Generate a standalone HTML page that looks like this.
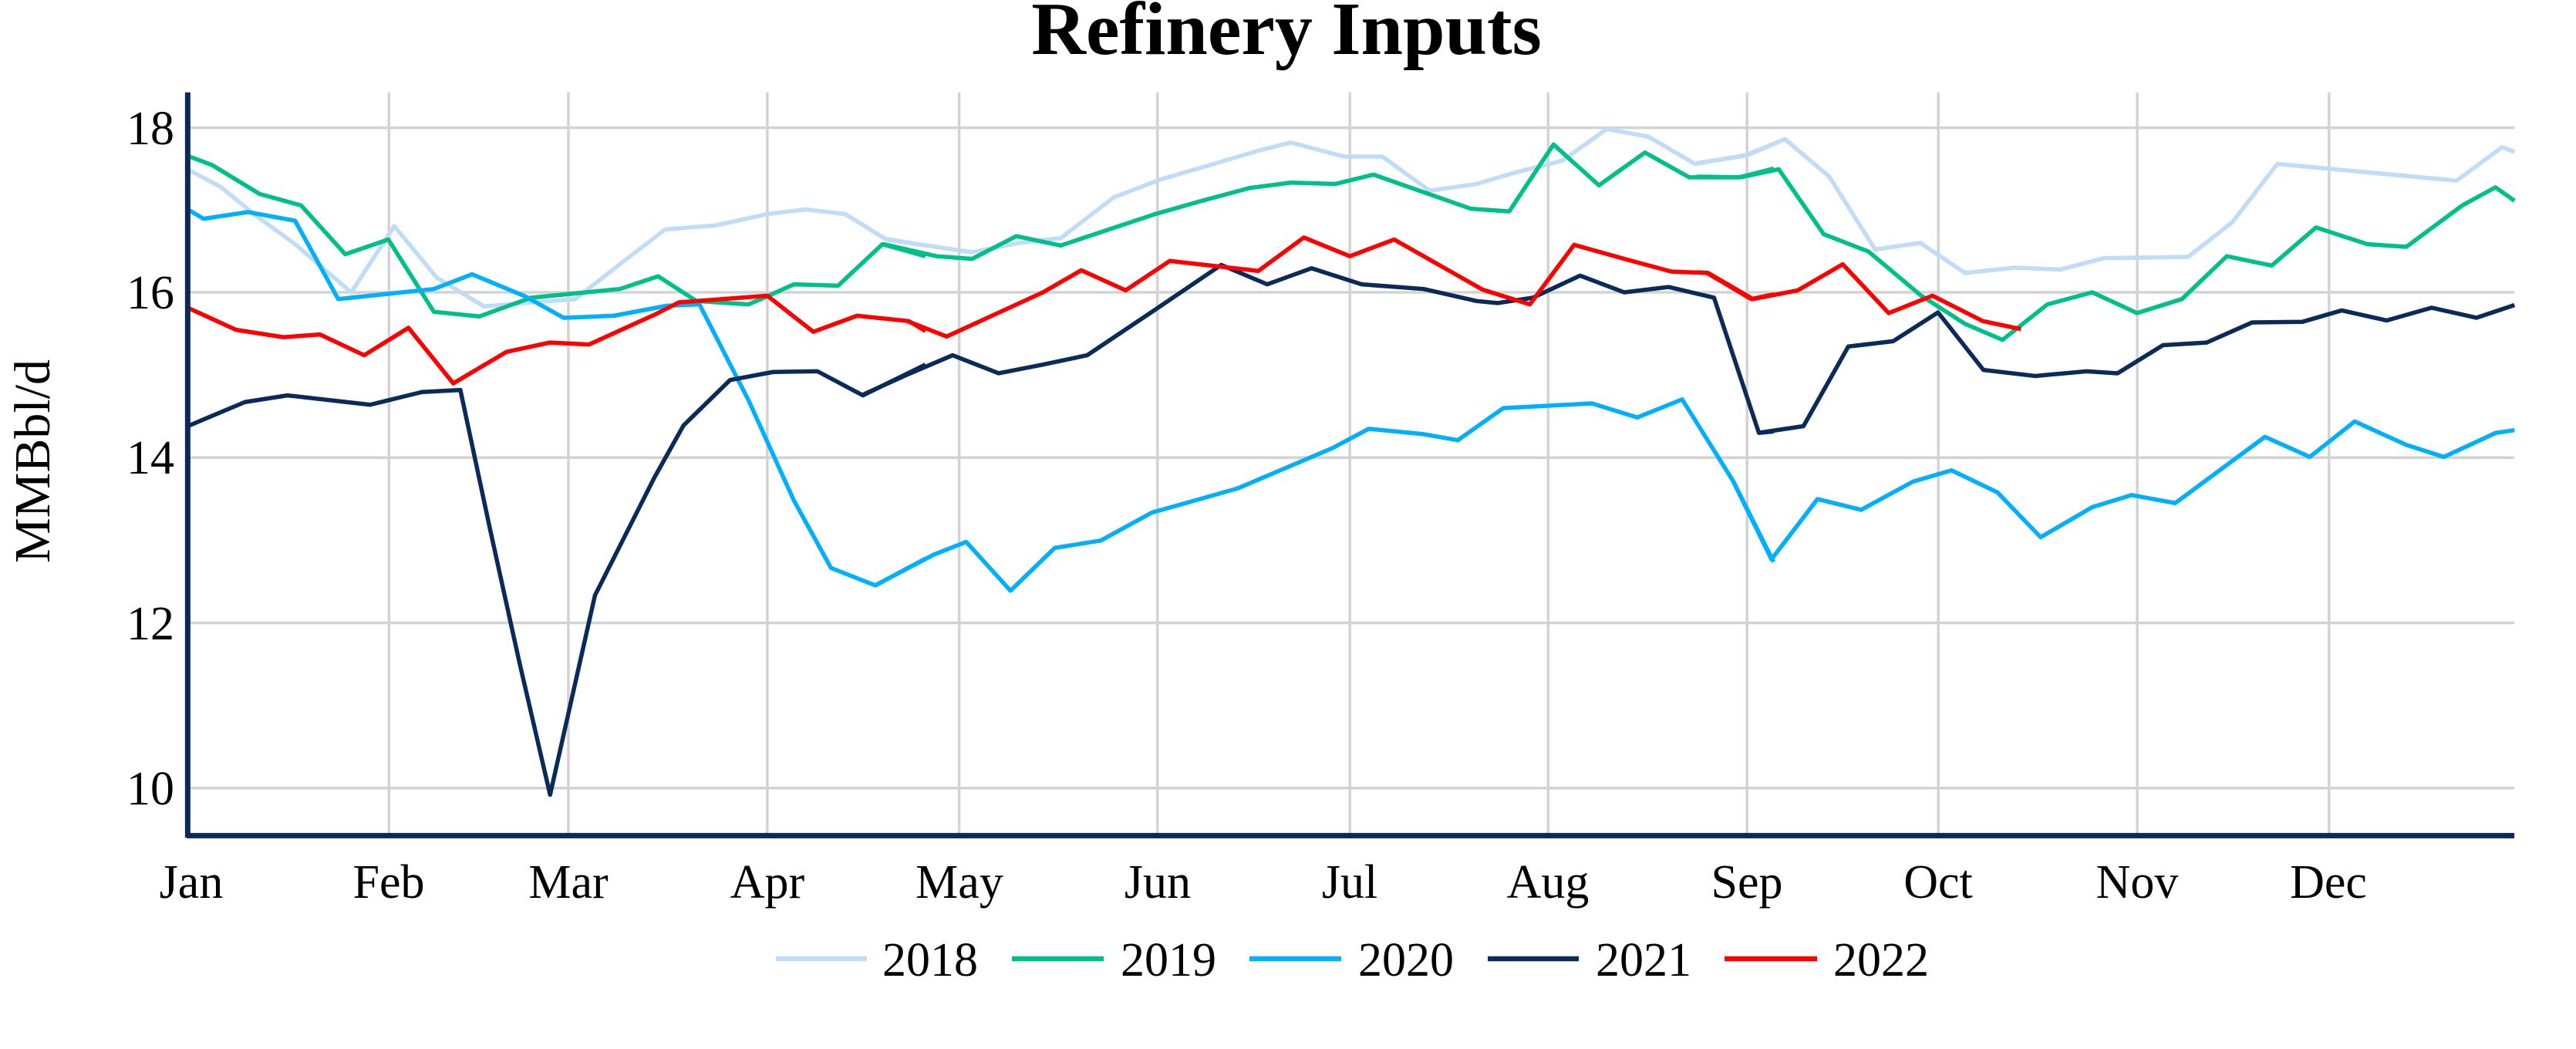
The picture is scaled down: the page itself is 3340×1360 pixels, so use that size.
<!DOCTYPE html>
<html><head><meta charset="utf-8"><style>
html,body{margin:0;padding:0;background:#fff;width:3340px;height:1360px;overflow:hidden}
svg{display:block}
text{font-family:"Liberation Serif",serif;fill:#000}
</style></head><body>
<svg width="3340" height="1360" viewBox="0 0 3340 1360" xmlns="http://www.w3.org/2000/svg">
<rect width="3340" height="1360" fill="#fff"/>
<svg x="0" y="0" width="3340" height="1360" viewBox="0 0 4364.4 1568" preserveAspectRatio="none">
<g stroke="#d3d3d3" stroke-width="3.5">
<line vector-effect="non-scaling-stroke" x1="318" y1="191" x2="4260" y2="191"/><line vector-effect="non-scaling-stroke" x1="318" y1="437" x2="4260" y2="437"/><line vector-effect="non-scaling-stroke" x1="318" y1="684" x2="4260" y2="684"/><line vector-effect="non-scaling-stroke" x1="318" y1="931" x2="4260" y2="931"/><line vector-effect="non-scaling-stroke" x1="318" y1="1178" x2="4260" y2="1178"/>
<line vector-effect="non-scaling-stroke" x1="659" y1="138" x2="659" y2="1249"/><line vector-effect="non-scaling-stroke" x1="963" y1="138" x2="963" y2="1249"/><line vector-effect="non-scaling-stroke" x1="1300" y1="138" x2="1300" y2="1249"/><line vector-effect="non-scaling-stroke" x1="1625" y1="138" x2="1625" y2="1249"/><line vector-effect="non-scaling-stroke" x1="1961" y1="138" x2="1961" y2="1249"/><line vector-effect="non-scaling-stroke" x1="2287" y1="138" x2="2287" y2="1249"/><line vector-effect="non-scaling-stroke" x1="2623" y1="138" x2="2623" y2="1249"/><line vector-effect="non-scaling-stroke" x1="2960" y1="138" x2="2960" y2="1249"/><line vector-effect="non-scaling-stroke" x1="3284" y1="138" x2="3284" y2="1249"/><line vector-effect="non-scaling-stroke" x1="3621" y1="138" x2="3621" y2="1249"/><line vector-effect="non-scaling-stroke" x1="3946" y1="138" x2="3946" y2="1249"/>
</g>
<g fill="none" stroke-width="5.5" stroke-linejoin="round">
<g stroke="#c0dcf8">
<polyline vector-effect="non-scaling-stroke" points="318,253 375,280 430,320 500,365 595,437 668,338 740,415 820,458 900,452 975,447 1050,395 1127,343 1212,337 1300,320 1365,313 1432,320 1500,357 1568,367"/>
<polyline vector-effect="non-scaling-stroke" transform="translate(1437,0)" points="65,358 210,377 290,363 360,356 450,295 530,268 600,250 700,224 750,213 840,234 905,234 985,285 1065,275 1130,258 1210,240 1285,193 1355,204 1435,245 1520,232 1568,215"/>
<polyline vector-effect="non-scaling-stroke" transform="translate(2875,0) scale(0.95005,1)" points="0,244 90,232 157,208 236,264 318,373 398,363 478,408 568,400 648,403 725,386 876,384 955,332 1035,245 1355,270 1436,220 1458,227"/>
</g>
<g stroke="#00c08a">
<polyline vector-effect="non-scaling-stroke" points="318,233 360,247 440,290 510,307 585,380 658,358 735,466 812,473 900,445 1050,432 1115,413 1180,450 1268,455 1300,443 1345,425 1420,427 1495,365 1568,383"/>
<polyline vector-effect="non-scaling-stroke" transform="translate(1437,0)" points="60,365 150,383 210,387 285,353 360,367 520,320 600,300 680,281 750,273 825,275 890,261 1055,312 1120,316 1195,216 1272,277 1350,228 1425,265 1510,265 1568,252"/>
<polyline vector-effect="non-scaling-stroke" transform="translate(2875,0) scale(0.95005,1)" points="0,264 78,265 146,253 226,350 306,376 400,442 478,484 545,508 625,455 705,437 785,468 865,447 945,383 1025,397 1104,340 1196,365 1265,369 1365,307 1424,280 1458,300"/>
</g>
<g stroke="#00b0ff">
<polyline vector-effect="non-scaling-stroke" points="318,313 345,327 420,317 500,330 573,447 735,432 800,410 890,443 955,475 1040,472 1130,457 1185,455 1268,598 1345,748 1408,849 1483,875 1568,835"/>
<polyline vector-effect="non-scaling-stroke" transform="translate(1437,0)" points="46,875 145,829 200,810 275,883 350,819 428,808 515,766 580,750 660,730 740,700 820,670 882,641 975,649 1033,658 1110,610 1260,603 1337,624 1413,597 1500,720 1568,840"/>
<polyline vector-effect="non-scaling-stroke" transform="translate(2875,0) scale(0.95005,1)" points="65,720 133,836 215,746 293,762 385,720 454,703 536,736 613,803 705,758 775,740 853,752 1013,653 1093,683 1173,630 1265,665 1332,683 1425,647 1458,643"/>
</g>
<g stroke="#0a2a5a">
<polyline vector-effect="non-scaling-stroke" points="318,637 415,601 487,591 627,605 715,586 780,583 830,790 880,990 932,1188 1008,890 1108,715 1158,636 1237,568 1310,556 1385,555 1462,591 1568,545"/>
<polyline vector-effect="non-scaling-stroke" transform="translate(1437,0)" points="25,590 100,560 177,531 255,558 330,545 405,531 520,463 632,396 710,425 785,401 870,425 975,432 1065,450 1100,453 1160,445 1240,412 1315,437 1390,429 1467,445 1543,647 1568,645"/>
<polyline vector-effect="non-scaling-stroke" transform="translate(2875,0) scale(0.95005,1)" points="110,647 190,637 270,518 350,510 430,467 511,553 603,562 695,555 750,558 831,516 909,512 990,482 1080,481 1150,464 1230,479 1310,460 1390,475 1458,456"/>
</g>
<g stroke="#ff0000">
<polyline vector-effect="non-scaling-stroke" points="318,460 400,493 480,504 542,500 617,531 692,490 768,573 858,526 932,512 998,515 1110,470 1150,452 1300,442 1378,496 1452,472 1540,480 1568,495"/>
<polyline vector-effect="non-scaling-stroke" transform="translate(1437,0)" points="100,480 167,503 330,437 395,404 470,434 545,390 695,405 772,355 850,383 925,358 1075,433 1155,455 1230,366 1315,387 1395,406 1455,408 1530,447 1568,440"/>
<polyline vector-effect="non-scaling-stroke" transform="translate(2875,0) scale(0.95005,1)" points="0,407 20,408 100,447 180,434 260,395 342,468 420,442 510,480 578,492"/>
</g>
</g>
<g stroke="#0a2a5a" stroke-width="7">
<line vector-effect="non-scaling-stroke" x1="318" y1="138" x2="318" y2="1252"/>
<line vector-effect="non-scaling-stroke" x1="316" y1="1249" x2="4260" y2="1249"/>
</g>
</svg>
<text x="1668" y="70" font-size="98" font-weight="bold" text-anchor="middle">Refinery Inputs</text>
<g font-size="62" text-anchor="end">
<text x="226" y="187">18</text><text x="226" y="400">16</text><text x="226" y="614">14</text><text x="226" y="829">12</text><text x="226" y="1043">10</text>
</g>
<g font-size="62" text-anchor="middle">
<text x="248" y="1164">Jan</text><text x="504" y="1164">Feb</text><text x="737" y="1164">Mar</text><text x="995" y="1164">Apr</text><text x="1244" y="1164">May</text><text x="1501" y="1164">Jun</text><text x="1750" y="1164">Jul</text><text x="2007" y="1164">Aug</text><text x="2265" y="1164">Sep</text><text x="2513" y="1164">Oct</text><text x="2771" y="1164">Nov</text><text x="3019" y="1164">Dec</text>
</g>
<text transform="translate(64,598) rotate(-90)" font-size="66" text-anchor="middle">MMBbl/d</text>
<g stroke-width="6.5">
<line x1="1006" y1="1243" x2="1124" y2="1243" stroke="#c0dcf8"/>
<line x1="1312" y1="1243" x2="1431" y2="1243" stroke="#00c08a"/>
<line x1="1620" y1="1243" x2="1739" y2="1243" stroke="#00b0ff"/>
<line x1="1929" y1="1243" x2="2047" y2="1243" stroke="#0a2a5a"/>
<line x1="2236" y1="1243" x2="2356" y2="1243" stroke="#ff0000"/>
</g>
<g font-size="62">
<text x="1144" y="1265">2018</text><text x="1453" y="1265">2019</text><text x="1761" y="1265">2020</text><text x="2069" y="1265">2021</text><text x="2377" y="1265">2022</text>
</g>
</svg>
</body></html>
